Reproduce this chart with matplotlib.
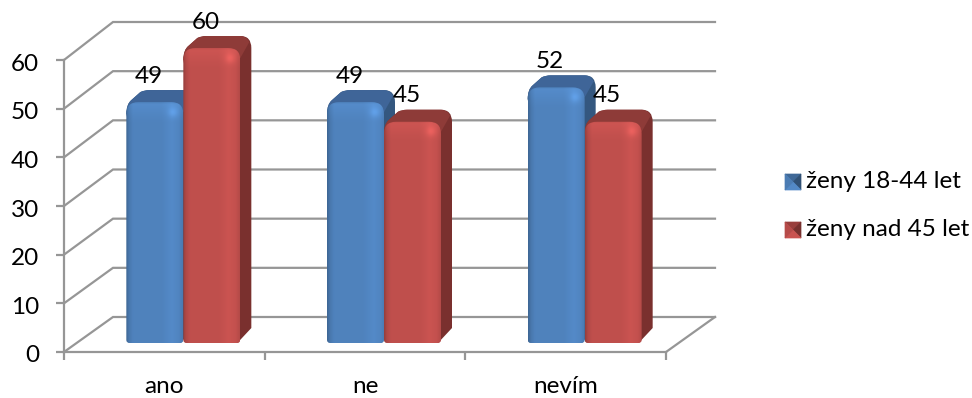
#!/usr/bin/env python
# -*- coding: utf-8 -*-
"""
Oblique 3D-style grouped column chart, survey answers by age group.
"""
import matplotlib
matplotlib.use("Agg")
import matplotlib.pyplot as plt
import matplotlib.transforms as mtrans
import numpy as np
from matplotlib.path import Path
from matplotlib.patches import PathPatch, Polygon

categories = ["ano", "ne", "nevím"]
series_names = ["ženy 18-44 let", "ženy nad 45 let"]
young = [49, 49, 52]
older = [60, 45, 45]
value_ticks = [0, 10, 20, 30, 40, 50, 60]

W, H = 972, 398
GRID = "#969696"
BLUE = {"front": (0.31, 0.51, 0.74), "top": "#3f6598", "side": "#34577f"}
RED = {"front": (0.75, 0.31, 0.30), "top": "#8e3b38", "side": "#7a302e"}
FONT = "Lato"
FS = 17.5

# axes box in pixels
left, right, floor, ceil = 64, 666, 352, 60
px_x = 3.0/(right - left)
px_y = 60.0/(floor - ceil)

# depth of the chart box, the back wall is a little taller than the front
depth_x = 49*px_x
depth_y = 35*px_y
back_scale = 295.0/292.0


def rounded(x0, x1, y0, y1, rtop, rbot):
    """Rectangle with different radii at top and bottom, radii in pixels"""
    tx, ty = rtop*px_x, rtop*px_y
    bx, by = rbot*px_x, rbot*px_y
    verts = [(x0 + bx, y0), (x1 - bx, y0), (x1, y0), (x1, y0 + by),
             (x1, y1 - ty), (x1, y1), (x1 - tx, y1),
             (x0 + tx, y1), (x0, y1), (x0, y1 - ty),
             (x0, y0 + by), (x0, y0), (x0 + bx, y0), (x0 + bx, y0)]
    codes = [Path.MOVETO, Path.LINETO, Path.CURVE3, Path.CURVE3,
             Path.LINETO, Path.CURVE3, Path.CURVE3,
             Path.LINETO, Path.CURVE3, Path.CURVE3,
             Path.LINETO, Path.CURVE3, Path.CURVE3, Path.CLOSEPOLY]
    return Path(verts, codes)


def top_outline(x0, x1, y1, sx, sy, foot):
    """Rounded slanted cap of a column, with foot it also runs down the far side"""
    def p(dx, dy, ox=x0):
        return (ox + dx*px_x, y1 + dy*px_y)
    far = x1 + sx*px_x
    verts = [p(0, -12), p(0, -2), p(5, 2), p(14, sy - 2), p(18, sy), p(23, sy)]
    codes = [Path.MOVETO, Path.CURVE3, Path.CURVE3, Path.LINETO, Path.CURVE3, Path.CURVE3]
    if foot:
        # silhouette: far edge, slanted foot, then back along the base
        verts += [p(-11, sy, far), p(0, sy, far), p(0, sy - 12, far), foot[0], foot[1], p(0, -12)]
        codes += [Path.LINETO, Path.CURVE3, Path.CURVE3, Path.LINETO, Path.LINETO, Path.LINETO]
    else:
        verts += [p(-11, sy, far), p(-5, sy, far), p(-2, sy - 6, far), p(0, -10, x1), p(0, -12)]
        codes += [Path.LINETO, Path.CURVE3, Path.CURVE3, Path.LINETO, Path.LINETO]
    return Path(verts, codes)


def shading(base, height_px):
    """Front face colours: dark left edge, bevel along the top, soft highlights"""
    w_px = 57
    xs = np.arange(w_px*2)/2.0
    ys = np.arange(int(height_px*2))/2.0
    across = np.interp(xs/w_px, [0, 0.05, 0.12, 0.62, 0.8, 0.92, 1.0],
                       [0.78, 0.92, 1.0, 1.0, 1.06, 1.02, 0.93])
    down = np.interp(ys, [0, 2, 7, 14, 20], [1.0, 1.07, 1.05, 1.02, 1.0])
    shade = np.outer(down, across)
    gx, gy = np.meshgrid(xs, ys)
    shade += 0.14*np.exp(-((gx - (w_px - 10))**2 + (gy - 10)**2)/(2*3.5**2))
    rgb = shade[:, :, None]*np.array(base)[None, None, :]
    return np.clip(rgb, 0, 1)


def draw_bar(ax, x0, value, style):
    width = 57*px_x
    base = 9*px_y
    sx, sy = 11, 12
    x1 = x0 + width
    y0, y1 = base, value*back_scale + base
    foot = [(x1 + sx*px_x, y0 + (sy + 3)*px_y), (x1 - 3*px_x, y0)]
    ax.add_patch(PathPatch(top_outline(x0, x1, y1, sx, sy, foot), fc=style["side"],
                           ec="none", zorder=3, clip_on=False))
    ax.add_patch(PathPatch(top_outline(x0, x1, y1, sx, sy, None), fc=style["top"],
                           ec="none", zorder=3, clip_on=False))
    clip = PathPatch(rounded(x0, x1, y0, y1, 12, 3), fc="none", ec="none",
                     transform=ax.transData, clip_on=False)
    ax.add_patch(clip)
    im = ax.imshow(shading(style["front"], (y1 - y0)/px_y), extent=(x0, x1, y0, y1),
                   origin="upper", aspect="auto", interpolation="bilinear", zorder=4)
    im.set_clip_path(clip)
    im.set_clip_box(ax.figure.bbox)


def legend_key(lax, x, y, base):
    s = 16
    cx, cy = x + s/2, y + s/2
    base = np.array(base)
    corners = [(x, y), (x + s, y), (x + s, y + s), (x, y + s)]
    shades = [0.8, 0.62, 1.05, 0.95]
    for i, k in enumerate(shades):
        col = np.clip(base*k, 0, 1)
        lax.add_patch(Polygon([corners[i], corners[(i + 1) % 4], (cx, cy)],
                              fc=col, ec=col, lw=0.5))


fig = plt.figure(figsize=(W/100, H/100), dpi=100)
ax = fig.add_axes([left/W, 1 - floor/H, (right - left)/W, (floor - ceil)/H])

# back wall gridlines and the floor edges
for v in value_ticks:
    yb = v*back_scale + depth_y
    ax.plot([0, depth_x, 3 + depth_x], [v, yb, yb], color=GRID,
            lw=1.6, clip_on=False, zorder=1, solid_joinstyle="miter")
ax.plot([3, 3 + depth_x], [0, depth_y], color=GRID, lw=1.6, clip_on=False, zorder=1)

bar_w = 57*px_x
for i in range(len(categories)):
    centre = i + 0.5 + 19*px_x
    draw_bar(ax, centre - bar_w, young[i], BLUE)
    draw_bar(ax, centre, older[i], RED)

for i in range(len(categories)):
    centre = i + 0.5 + 19*px_x
    for vals, mid in ((young, centre - bar_w/2), (older, centre + bar_w/2)):
        ax.annotate(str(vals[i]), (mid, vals[i]*back_scale + 9*px_y), xytext=(-6, 26),
                    textcoords="offset pixels", ha="center", va="center",
                    fontsize=FS, family=FONT, color="black", zorder=6,
                    annotation_clip=False)

ax.set_xlim(0, 3)
ax.set_ylim(0, 60)
ax.patch.set_alpha(0)
for name in ("top", "right"):
    ax.spines[name].set_visible(False)
for name in ("left", "bottom"):
    ax.spines[name].set_color(GRID)
    ax.spines[name].set_linewidth(1.6)
    ax.spines[name].set_zorder(2)

ax.set_yticks(value_ticks)
ax.set_xticks([0, 1, 2, 3])
ax.set_xticklabels([])
ax.set_xticks([0.5, 1.5, 2.5], minor=True)
ax.set_xticklabels(categories, minor=True, fontsize=FS, family=FONT)
ax.tick_params(axis="x", which="major", length=6, width=1.6, color=GRID)
ax.tick_params(axis="x", which="minor", length=0, pad=17)
ax.tick_params(axis="y", length=6, width=1.6, color=GRID, pad=12)
# nudge the value labels down a touch
nudge = mtrans.ScaledTranslation(0, -2/100, fig.dpi_scale_trans)
for lab in ax.get_yticklabels():
    lab.set_fontsize(FS)
    lab.set_family(FONT)
    lab.set_transform(lab.get_transform() + nudge)

# legend, laid out in pixels
lax = fig.add_axes([0, 0, 1, 1])
lax.set_xlim(0, W)
lax.set_ylim(H, 0)
lax.axis("off")
for name, base, y in zip(series_names, (BLUE["front"], RED["front"]), (174, 222)):
    legend_key(lax, 785, y, base)
    lax.text(806, y + 8, name, ha="left", va="center", fontsize=FS, family=FONT, color="black")

fig.savefig("out.png", dpi=100)
